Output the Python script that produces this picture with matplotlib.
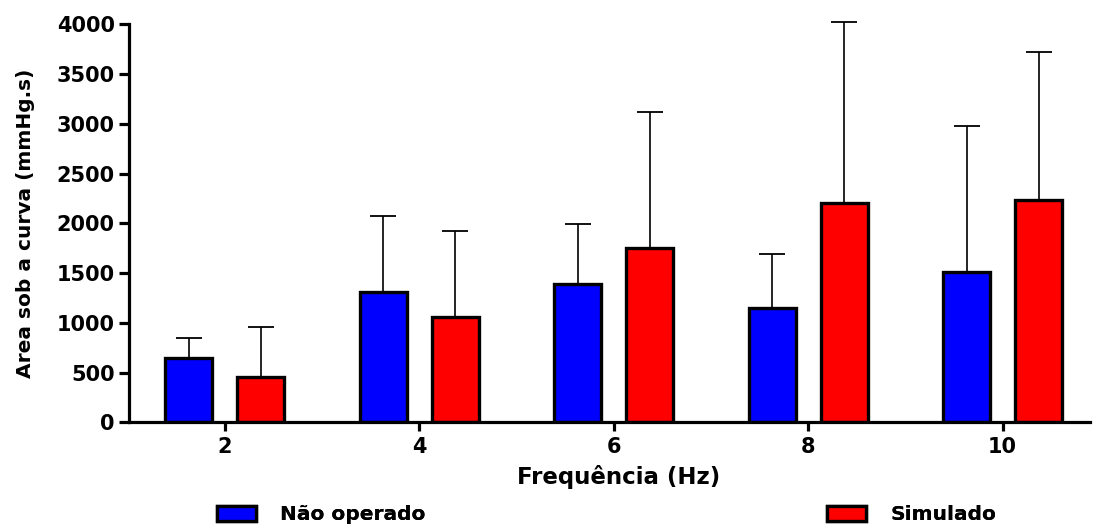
#!/usr/bin/env python3
import matplotlib
matplotlib.use("Agg")
import matplotlib.pyplot as plt
import numpy as np

# Data
freqs = ["2", "4", "6", "8", "10"]
nao_operado = [646, 1306, 1390, 1149, 1511]
nao_operado_err = [201, 767, 603, 542, 1470]
simulado = [458, 1061, 1749, 2207, 2237]
simulado_err = [503, 861, 1370, 1811, 1482]

plt.rcParams["font.family"] = ["DejaVu Sans"]
plt.rcParams["font.weight"] = "bold"

fig = plt.figure(figsize=(10.96, 5.28), dpi=100)
ax = fig.add_axes([0.1173, 0.2002, 0.8772, 0.7538])

x = np.arange(len(freqs))
w = 0.242
off = 0.185

for xs, vals, errs, col, lab in [
    (x - off, nao_operado, nao_operado_err, "#0000ff", "Não operado"),
    (x + off, simulado, simulado_err, "#ff0000", "Simulado"),
]:
    eb = ax.errorbar(xs, vals, yerr=[np.zeros(len(vals)), errs], fmt="none",
                     ecolor="black", elinewidth=1.2, capsize=9.5, capthick=1.3,
                     zorder=1)
    for child in eb.get_children():
        child.set_clip_on(False)
    ax.bar(xs, vals, width=w, color=col, edgecolor="black", linewidth=2.4,
           zorder=2, label=lab)

ax.set_xlim(-0.4936, 4.449)
ax.set_ylim(0, 4000)
ax.set_yticks(np.arange(0, 4001, 500))
ax.set_xticks(x)
ax.set_xticklabels(freqs)

for s in ["top", "right"]:
    ax.spines[s].set_visible(False)
for s in ["left", "bottom"]:
    ax.spines[s].set_linewidth(2.3)

ax.tick_params(axis="y", direction="out", length=7, width=2.3, pad=3, labelsize=15)
ax.tick_params(axis="x", direction="out", length=6.5, width=2.3, pad=4, labelsize=15)
for t in ax.get_xticklabels() + ax.get_yticklabels():
    t.set_fontweight("bold")

ax.set_xlabel("Frequência (Hz)", fontsize=16.5, fontweight="bold")
ax.xaxis.set_label_coords(0.51, -0.108)
ax.set_ylabel("Area sob a curva (mmHg.s)", fontsize=14.5, fontweight="bold")
ax.yaxis.set_label_coords(-0.097, 0.5)

# legend entries placed apart like the reference
handles, labels = ax.get_legend_handles_labels()
leg_pos = [(217 / 1096, 13 / 528), (827 / 1096, 13 / 528)]
for h, l, pos in zip(handles, labels, leg_pos):
    lg = fig.legend([h], [l], loc="center left", bbox_to_anchor=pos,
                    frameon=False, borderpad=0, borderaxespad=0,
                    handlelength=1.95, handleheight=0.8, handletextpad=1.2,
                    prop={"size": 14.5, "weight": "bold"})
    fig.add_artist(lg)

plt.savefig("out.png", dpi=100)
